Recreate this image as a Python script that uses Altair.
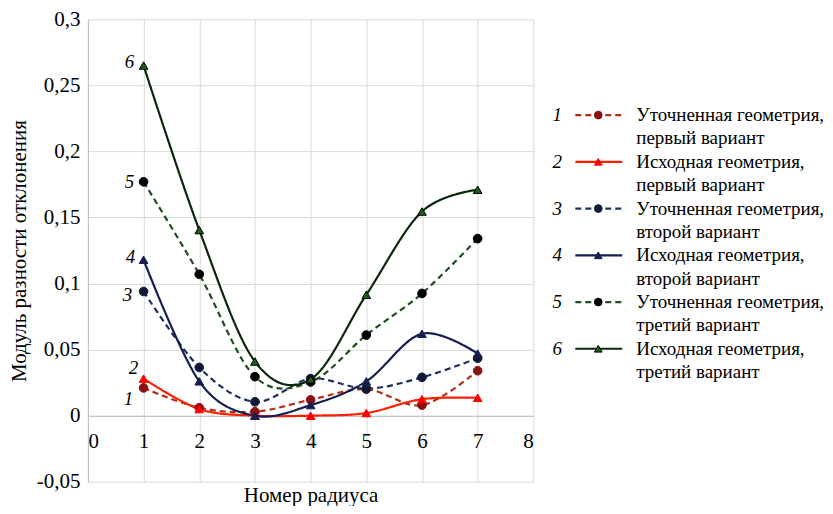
import altair as alt
import pandas as pd

# ---------------- data ----------------
x_vals = [1, 2, 3, 4, 5, 6, 7]
s1 = [0.021, 0.006, 0.003, 0.012, 0.020, 0.008, 0.034]
s2 = [0.028, 0.005, 0.0, 0.0, 0.002, 0.0125, 0.0135]
s3 = [0.094, 0.0365, 0.0105, 0.028, 0.0205, 0.029, 0.0435]
s4 = [0.118, 0.026, 0.0, 0.008, 0.026, 0.062, 0.047]
s5 = [0.177, 0.107, 0.0295, 0.0255, 0.061, 0.0925, 0.134]
s6 = [0.265, 0.1405, 0.041, 0.0275, 0.0915, 0.1545, 0.171]

series_ids = ["1", "2", "3", "4", "5", "6"]
legend_line1 = [
    "Уточненная геометрия,",
    "Исходная геометрия,",
    "Уточненная геометрия,",
    "Исходная геометрия,",
    "Уточненная геометрия,",
    "Исходная геометрия,",
]
legend_line2 = [
    "первый вариант",
    "первый вариант",
    "второй вариант",
    "второй вариант",
    "третий вариант",
    "третий вариант",
]
y_ticks = [-0.05, 0.0, 0.05, 0.1, 0.15, 0.2, 0.25, 0.3]
x_ticks = [0, 1, 2, 3, 4, 5, 6, 7, 8]
x_title = "Номер радиуса"
y_title = "Модуль разности отклонения"

# ---------------- styles ----------------
line_colors = ["#B0301A", "#FF1E00", "#203060", "#141E50", "#1F4F1F", "#0C260C"]
marker_fill = ["#8B1010", "#FF0000", "#101838", "#141E50", "#000000", "#1A5E1A"]
marker_stroke = ["#8B1010", "#FF0000", "#101838", "#141E50", "#000000", "#000000"]
shapes = ["circle", "triangle-up", "circle", "triangle-up", "circle", "triangle-up"]
dashes = [[6, 4], [1, 0], [6, 4], [1, 0], [6, 4], [1, 0]]
label_dx = [-15, -10, -16, -13, -14, -14]
label_dy = [11, -11, 4, -3, 0, -4]
FONT = "Liberation Serif"

all_series = [s1, s2, s3, s4, s5, s6]
rows = []
for sid, vals in zip(series_ids, all_series):
    for x, v in zip(x_vals, vals):
        rows.append({"x": x, "value": v, "series": sid})
df = pd.DataFrame(rows)

color_scale = alt.Scale(domain=series_ids, range=line_colors)
fill_scale = alt.Scale(domain=series_ids, range=marker_fill)
stroke_scale = alt.Scale(domain=series_ids, range=marker_stroke)
shape_scale = alt.Scale(domain=series_ids, range=shapes)
dash_scale = alt.Scale(domain=series_ids, range=dashes)

label_expr_y = "replace(replace(format(datum.value, '.2~f'), '.', ','), '\u2212', '-')"

x_enc = alt.X(
    "x:Q",
    scale=alt.Scale(domain=[0, 8], nice=False),
    axis=alt.Axis(
        values=x_ticks, format="d", title=x_title, offset=-66, grid=True, gridColor="#D9D9D9",
        domainColor="#BFBFBF", ticks=False, labelFontSize=21,
        labelColor="black", labelPadding=15, titleFontSize=21,
        titleFontWeight="normal", titleColor="black", titlePadding=33,
    ),
)
y_enc = alt.Y(
    "value:Q",
    scale=alt.Scale(domain=[-0.05, 0.3], nice=False, zero=False),
    axis=alt.Axis(
        values=y_ticks, title=y_title, labelExpr=label_expr_y, grid=True,
        gridColor="#D9D9D9", domainColor="#BFBFBF", ticks=False,
        labelFontSize=21, labelColor="black", labelPadding=8,
        titleFontSize=21, titleFontWeight="normal", titleColor="black", titlePadding=7,
    ),
)

base = alt.Chart(df)
lines = base.mark_line(interpolate="cardinal", strokeWidth=2.2).encode(
    x=x_enc,
    y=y_enc,
    color=alt.Color("series:N", scale=color_scale, legend=None),
    strokeDash=alt.StrokeDash("series:N", scale=dash_scale, legend=None),
)
points = base.mark_point(filled=True, size=75, strokeWidth=1, opacity=1).encode(
    x="x:Q",
    y="value:Q",
    shape=alt.Shape("series:N", scale=shape_scale, legend=None),
    fill=alt.Fill("series:N", scale=fill_scale, legend=None),
    stroke=alt.Stroke("series:N", scale=stroke_scale, legend=None),
)

num_layers = []
for i, (sid, vals) in enumerate(zip(series_ids, all_series)):
    d = pd.DataFrame({"x": [x_vals[0]], "value": [vals[0]], "lab": [sid]})
    num_layers.append(
        alt.Chart(d).mark_text(
            fontSize=19, fontStyle="italic", color="black",
            dx=label_dx[i], dy=label_dy[i], align="center", baseline="middle",
        ).encode(x="x:Q", y="value:Q", text="lab:N")
    )

main = alt.layer(lines, points, *num_layers).properties(width=446, height=463)

# ---------------- legend panel ----------------
leg_rows = []
sym_rows = []
for i, sid in enumerate(series_ids):
    leg_rows.append({"row": 2 * i, "txt": legend_line1[i]})
    leg_rows.append({"row": 2 * i + 1, "txt": legend_line2[i]})
    sym_rows.append({"row": 2 * i, "series": sid, "num": sid})
leg_df = pd.DataFrame(leg_rows)
sym_df = pd.DataFrame(sym_rows)

ly = alt.Y("row:Q", scale=alt.Scale(domain=[-4.1, 15.69], nice=False, zero=False, reverse=True), axis=None)

leg_text = alt.Chart(leg_df).mark_text(
    fontSize=19, color="black", align="left", baseline="middle"
).encode(x=alt.value(103), y=ly, text="txt:N")
leg_num = alt.Chart(sym_df).mark_text(
    fontSize=19, fontStyle="italic", color="black", align="center", baseline="middle"
).encode(x=alt.value(24), y=ly, text="num:N")
leg_rule = alt.Chart(sym_df).mark_rule(strokeWidth=2.2).encode(
    x=alt.value(42), x2=alt.value(89), y=ly,
    color=alt.Color("series:N", scale=color_scale, legend=None),
    strokeDash=alt.StrokeDash("series:N", scale=dash_scale, legend=None),
)
leg_pt = alt.Chart(sym_df).mark_point(filled=True, size=60, strokeWidth=1, opacity=1).encode(
    x=alt.value(65), y=ly,
    shape=alt.Shape("series:N", scale=shape_scale, legend=None),
    fill=alt.Fill("series:N", scale=fill_scale, legend=None),
    stroke=alt.Stroke("series:N", scale=stroke_scale, legend=None),
)
legend = alt.layer(leg_rule, leg_pt, leg_num, leg_text).properties(width=270, height=463)

chart = (
    alt.hconcat(main, legend, spacing=0)
    .properties(padding={"left": 0, "top": 0, "right": 0, "bottom": 0}, background="white")
    .configure(font=FONT)
    .configure_axis(labelFont=FONT, titleFont=FONT)
    .configure_text(font=FONT)
    .configure_view(stroke=None)
)

chart.save("out.html", embed_options={"renderer": "svg", "actions": False})
